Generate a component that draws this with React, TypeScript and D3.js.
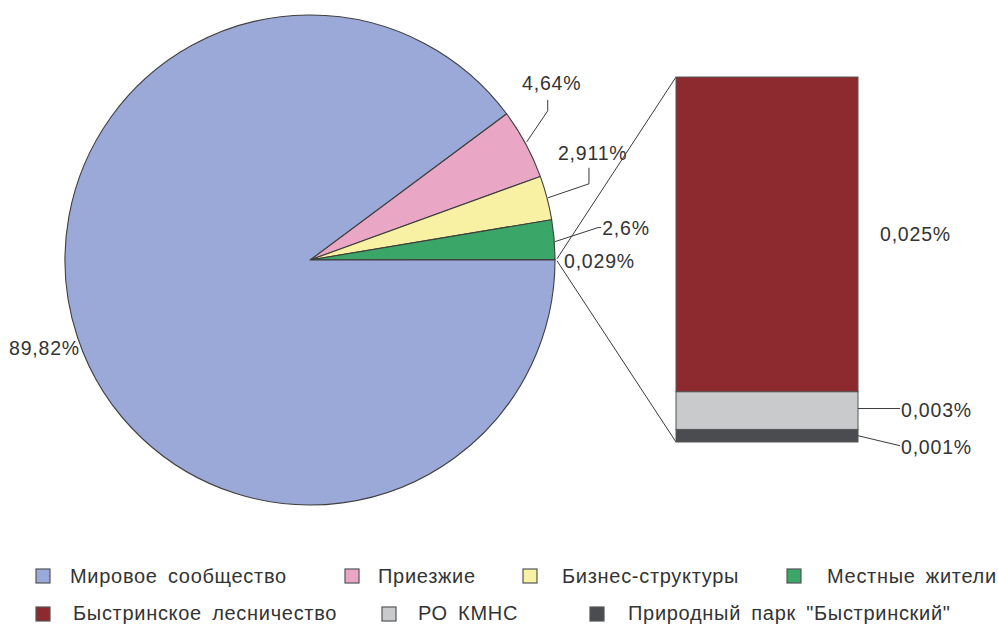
import React from "react";
import * as d3 from "d3";

const pieCategories = ["Приезжие", "Бизнес-структуры", "Местные жители", "Прочие", "Мировое сообщество"];
const pieValues = [4.64, 2.911, 2.6, 0.029, 89.82];
const pieLabels = ["4,64%", "2,911%", "2,6%", "0,029%", "89,82%"];
const pieColors = ["#e9a7c5", "#f8f0a2", "#3aa667", "#c9c9cb", "#9aa9d7"];

const barCategories = ["Природный парк \"Быстринский\"", "РО КМНС", "Быстринское лесничество"];
const barValues = [0.001, 0.003, 0.025];
const barLabels = ["0,001%", "0,003%", "0,025%"];
const barColors = ["#4b4c50", "#c9cacc", "#8c2a2f"];

const legendRow1 = ["Мировое сообщество", "Приезжие", "Бизнес-структуры", "Местные жители"];
const legendRow1Colors = ["#9aa9d7", "#e9a7c5", "#f8f0a2", "#3aa667"];
const legendRow2 = ["Быстринское лесничество", "РО КМНС", "Природный парк \"Быстринский\""];
const legendRow2Colors = ["#8c2a2f", "#c9cacc", "#4b4c50"];

const W = 998;
const H = 624;
const FONT = "Arial, 'Liberation Sans', Helvetica, sans-serif";
const TEXT = "#333";

export default function App() {
  const cx = 310;
  const cy = 260;
  const R = 245;
  const smallSum = d3.sum(pieValues.slice(0, 4));
  const start = Math.PI / 2 - (2 * Math.PI * smallSum) / d3.sum(pieValues);
  const pie = d3.pie<number>().sort(null).value((d) => d).startAngle(start).endAngle(start + 2 * Math.PI);
  const arcs = pie(pieValues);
  const arcGen = d3.arc<d3.PieArcDatum<number>>().innerRadius(0).outerRadius(R);

  const pt = (a: number, r: number) => [cx + r * Math.sin(a), cy - r * Math.cos(a)];

  const barX0 = 676;
  const barX1 = 858;
  const stacked = barValues.map((v, i) => ({ v, lo: d3.sum(barValues.slice(0, i)), hi: d3.sum(barValues.slice(0, i + 1)) }));
  const y = d3.scaleLinear().domain([0, d3.sum(barValues)]).range([442, 77]);

  const tinyArc = arcs[3];
  const tinyMid = (tinyArc.startAngle + tinyArc.endAngle) / 2;
  const [tx, ty] = pt(tinyMid, R + 2);

  const leaders = [0, 1, 2].map((i) => {
    const a = arcs[i];
    const mid = (a.startAngle + a.endAngle) / 2;
    const [ex, ey] = pt(mid, R);
    return { ex, ey };
  });

  const txtProps = { fontFamily: FONT, fontSize: 19.5, fill: TEXT, letterSpacing: 0.8 } as any;
  const legProps = { fontFamily: FONT, fontSize: 20, fill: TEXT, letterSpacing: 0.7, wordSpacing: 4 } as any;

  const legendX1 = [36, 345, 523, 787];
  const legendT1 = [34, 33, 39, 40];
  const legendX2 = [36, 382, 590];
  const legendT2 = [37, 36, 38];

  const mid1 = (y(stacked[1].lo) + y(stacked[1].hi)) / 2;
  const mid0 = (y(stacked[0].lo) + y(stacked[0].hi)) / 2;

  return (
    <svg width={W} height={H} style={{ position: "absolute", left: 0, top: 0, background: "#fff" }}>
      <rect x={0} y={0} width={W} height={H} fill="#fff" />
      <line x1={tx} y1={ty - 1} x2={barX0} y2={y(d3.sum(barValues))} stroke="#3a3a3a" strokeWidth={1} />
      <line x1={tx} y1={ty + 1} x2={barX0} y2={y(0)} stroke="#3a3a3a" strokeWidth={1} />
      <g transform={`translate(${cx},${cy})`}>
        {arcs.map((a, i) => (
          <path key={i} d={arcGen(a) || ""} fill={pieColors[i]} stroke="#3f3f3f" strokeWidth={1.1} strokeLinejoin="round" />
        ))}
      </g>
      <polyline
        points={`${leaders[0].ex + 1},${leaders[0].ey - 2} ${leaders[0].ex + 22},${leaders[0].ey - 33} ${leaders[0].ex + 22},${leaders[0].ey - 44}`}
        fill="none" stroke="#3a3a3a" strokeWidth={1}
      />
      <text x={leaders[0].ex + 26} y={leaders[0].ey - 54} textAnchor="middle" {...txtProps}>{pieLabels[0]}</text>
      <polyline
        points={`${leaders[1].ex + 1},${leaders[1].ey} ${leaders[1].ex + 42},${leaders[1].ey - 14} ${leaders[1].ex + 42},${leaders[1].ey - 30}`}
        fill="none" stroke="#3a3a3a" strokeWidth={1}
      />
      <text x={leaders[1].ex + 11} y={leaders[1].ey - 38} {...txtProps}>{pieLabels[1]}</text>
      <polyline
        points={`${leaders[2].ex + 1},${leaders[2].ey + 2} ${leaders[2].ex + 44},${leaders[2].ey - 12} ${leaders[2].ex + 47},${leaders[2].ey - 12}`}
        fill="none" stroke="#3a3a3a" strokeWidth={1}
      />
      <text x={leaders[2].ex + 48} y={leaders[2].ey - 5} {...txtProps}>{pieLabels[2]}</text>
      <text x={tx + 7} y={ty + 8} {...txtProps}>{pieLabels[3]}</text>
      <text x={9} y={355} {...txtProps}>{pieLabels[4]}</text>

      {stacked.map((s, i) => (
        <rect key={i} x={barX0} y={y(s.hi)} width={barX1 - barX0} height={y(s.lo) - y(s.hi)} fill={barColors[i]} stroke="#555" strokeWidth={1} />
      ))}
      <text x={880} y={(y(stacked[2].lo) + y(stacked[2].hi)) / 2 + 7} {...txtProps}>{barLabels[2]}</text>
      <line x1={barX1} y1={mid1 - 2} x2={900} y2={mid1 - 2} stroke="#3a3a3a" />
      <text x={901} y={mid1 + 6} {...txtProps}>{barLabels[1]}</text>
      <line x1={barX1} y1={mid0} x2={900} y2={mid0 + 10} stroke="#3a3a3a" />
      <text x={901} y={mid0 + 18} {...txtProps}>{barLabels[0]}</text>

      {legendRow1.map((t, i) => (
        <g key={t}>
          <rect x={legendX1[i]} y={569} width={14} height={14} fill={legendRow1Colors[i]} stroke="#555" strokeWidth={1.2} />
          <text x={legendX1[i] + legendT1[i]} y={583} {...legProps}>{t}</text>
        </g>
      ))}
      {legendRow2.map((t, i) => (
        <g key={t}>
          <rect x={legendX2[i]} y={607} width={14} height={14} fill={legendRow2Colors[i]} stroke="#555" strokeWidth={1.2} />
          <text x={legendX2[i] + legendT2[i]} y={620} {...legProps}>{t}</text>
        </g>
      ))}
    </svg>
  );
}
